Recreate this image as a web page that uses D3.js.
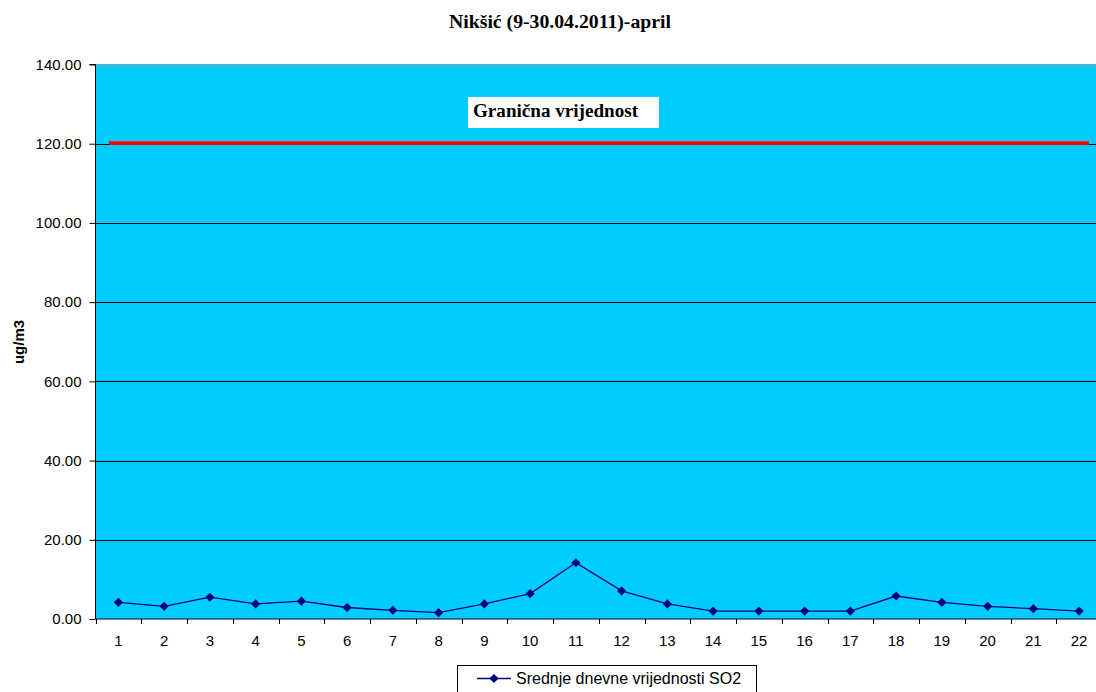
<!DOCTYPE html>
<html>
<head>
<meta charset="utf-8">
<script src="https://cdn.jsdelivr.net/npm/d3@7"></script>
<style>
  html, body { margin: 0; padding: 0; background: #ffffff; }
  svg { display: block; }
</style>
</head>
<body>
<svg id="chart" width="1096" height="692"></svg>
<script>
const title = "Nikšić (9-30.04.2011)-april";
const yAxisTitle = "ug/m3";
const seriesName = "Srednje dnevne vrijednosti SO2";
const limitLabel = "Granična vrijednost";
const categories = ["1","2","3","4","5","6","7","8","9","10","11","12","13","14","15","16","17","18","19","20","21","22"];
const so2Values = [4.2, 3.2, 5.5, 3.8, 4.5, 2.9, 2.2, 1.6, 3.8, 6.4, 14.2, 7.1, 3.8, 2.0, 2.0, 2.0, 2.0, 5.8, 4.2, 3.2, 2.6, 2.0];
const limitValue = [120];
const yTicks = [0, 20, 40, 60, 80, 100, 120, 140];

(function () {
const svg = d3.select("#chart");
const pl = 95.5, pr = 1102, pt = 64.5, pb = 619;

const x = d3.scaleBand().domain(categories).range([pl, pr]).padding(0);
const y = d3.scaleLinear().domain([0, 140]).range([pb, pt]);

// plot background
svg.append("rect")
  .attr("x", pl).attr("y", pt)
  .attr("width", pr - pl).attr("height", pb - pt)
  .attr("fill", "#00CCFF");

// top border (gray)
svg.append("line")
  .attr("x1", pl).attr("x2", pr)
  .attr("y1", pt).attr("y2", pt)
  .attr("stroke", "#9a9a9a").attr("stroke-width", 1.2);

// gridlines
svg.append("g").selectAll("line")
  .data(yTicks.filter(d => d > 0 && d < 140))
  .join("line")
  .attr("x1", pl).attr("x2", pr)
  .attr("y1", d => Math.round(y(d)) + 0.5).attr("y2", d => Math.round(y(d)) + 0.5)
  .attr("stroke", "#000").attr("stroke-width", 1);

// limit line
svg.append("g").selectAll("line")
  .data(limitValue)
  .join("line")
  .attr("x1", 109).attr("x2", 1089)
  .attr("y1", d => y(d) - 0.5).attr("y2", d => y(d) - 0.5)
  .attr("stroke", "#FF0000").attr("stroke-width", 3.8);

// y axis
const yAxis = d3.axisLeft(y).tickValues(yTicks).tickFormat(d3.format(".2f")).tickSize(6).tickPadding(8);
const gy = svg.append("g").attr("transform", `translate(${pl},0)`).call(yAxis);
gy.select(".domain").attr("stroke", "#000").attr("d", `M-6,${pt}H0V${pb}`);
gy.selectAll(".tick line").attr("stroke", "#000");
gy.selectAll(".tick text")
  .attr("font-family", "'Liberation Sans', Arial, sans-serif")
  .attr("font-size", 15).attr("fill", "#000");

// x axis: labels centered, ticks at band boundaries
const xAxis = d3.axisBottom(x).tickSize(0).tickPadding(16);
const gx = svg.append("g").attr("transform", `translate(0,${pb})`).call(xAxis);
gx.select(".domain").remove();
gx.selectAll(".tick text")
  .attr("font-family", "'Liberation Sans', Arial, sans-serif")
  .attr("font-size", 15).attr("fill", "#000");

svg.append("line")
  .attr("x1", pl).attr("x2", pr)
  .attr("y1", pb).attr("y2", pb)
  .attr("stroke", "#000").attr("stroke-width", 1.2);

const boundaries = categories.map(c => x(c)).concat([x(categories[categories.length - 1]) + x.bandwidth()]);
svg.append("g").selectAll("line")
  .data(boundaries)
  .join("line")
  .attr("x1", d => Math.round(d) + 0.5).attr("x2", d => Math.round(d) + 0.5)
  .attr("y1", pb).attr("y2", pb + 5)
  .attr("stroke", "#000").attr("stroke-width", 1);

// series line
const line = d3.line()
  .x((d, i) => x(categories[i]) + x.bandwidth() / 2)
  .y(d => y(d));
svg.append("path")
  .datum(so2Values)
  .attr("d", line)
  .attr("fill", "none")
  .attr("stroke", "#000080")
  .attr("stroke-width", 1.3);

const diamond = d3.symbol().type(d3.symbolSquare).size(42);
svg.append("g").selectAll("path")
  .data(so2Values)
  .join("path")
  .attr("d", diamond)
  .attr("transform", (d, i) => `translate(${x(categories[i]) + x.bandwidth() / 2},${y(d)}) rotate(45)`)
  .attr("fill", "#000080");

// limit label box
svg.append("rect")
  .attr("x", 468).attr("y", 97).attr("width", 191).attr("height", 31)
  .attr("fill", "#ffffff");
svg.append("text")
  .attr("x", 473).attr("y", 116.5)
  .attr("font-family", "'Liberation Serif', 'Times New Roman', serif")
  .attr("font-weight", "bold").attr("font-size", 18)
  .attr("textLength", 165).attr("lengthAdjust", "spacingAndGlyphs")
  .attr("fill", "#000")
  .text(limitLabel);

// title
svg.append("text")
  .attr("x", 449).attr("y", 27.5)
  .attr("font-family", "'Liberation Serif', 'Times New Roman', serif")
  .attr("font-weight", "bold").attr("font-size", 18)
  .attr("textLength", 222).attr("lengthAdjust", "spacingAndGlyphs")
  .attr("fill", "#000")
  .text(title);

// y axis title
svg.append("text")
  .attr("transform", "translate(18,342) rotate(-90)")
  .attr("text-anchor", "middle")
  .attr("dominant-baseline", "central")
  .attr("font-family", "'Liberation Sans', Arial, sans-serif")
  .attr("font-weight", "bold").attr("font-size", 15)
  .attr("fill", "#000")
  .text(yAxisTitle);

// legend
const lg = svg.append("g");
lg.append("rect")
  .attr("x", 457.5).attr("y", 665.5).attr("width", 299).attr("height", 40)
  .attr("fill", "#fff").attr("stroke", "#000").attr("stroke-width", 1);
lg.append("line")
  .attr("x1", 477).attr("x2", 511).attr("y1", 678.5).attr("y2", 678.5)
  .attr("stroke", "#000080").attr("stroke-width", 1.3);
lg.append("path")
  .attr("d", diamond)
  .attr("transform", "translate(494,678.5) rotate(45)")
  .attr("fill", "#000080");
lg.append("text")
  .attr("x", 516).attr("y", 684)
  .attr("font-family", "'Liberation Sans', Arial, sans-serif")
  .attr("font-size", 16).attr("fill", "#000")
  .text(seriesName);
})();
</script>
</body>
</html>
